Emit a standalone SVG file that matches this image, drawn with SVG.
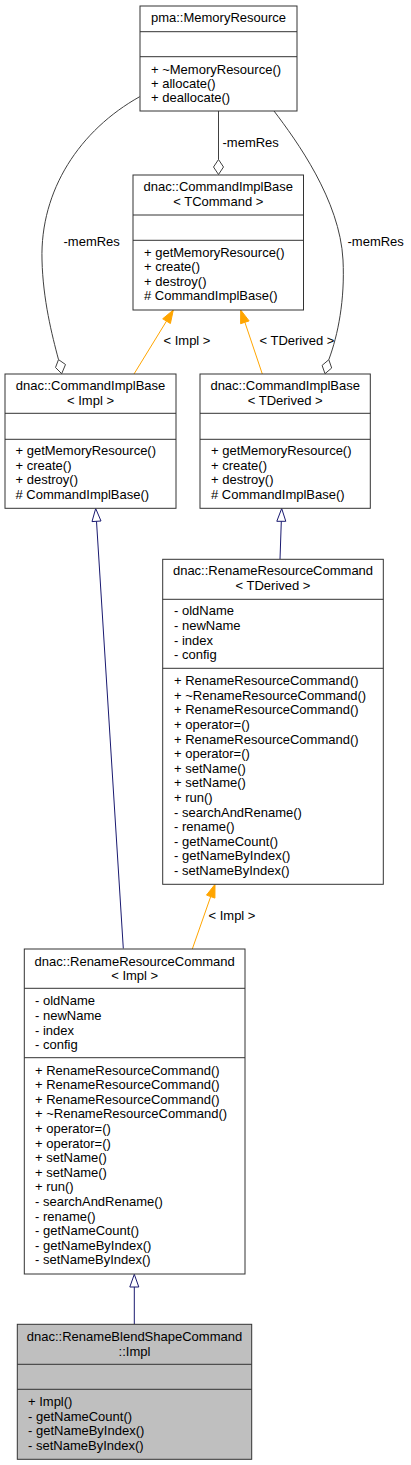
<svg xmlns="http://www.w3.org/2000/svg" width="411" height="1465" viewBox="0 0 411 1465">
<style>
text{font-family:"Liberation Sans",Arial,sans-serif;font-size:13px;fill:#000}
.t{text-anchor:middle}
.box{fill:#fff;stroke:#333;stroke-width:1}
.cur{fill:#bfbfbf;stroke:#333;stroke-width:1}
.sep{stroke:#333;stroke-width:1}
.use{fill:none;stroke:#404040;stroke-width:1}
.dia{fill:#fff;stroke:#404040;stroke-width:1}
.tpl{fill:none;stroke:#ffa500;stroke-width:1}
.tplh{fill:#ffa500;stroke:#ffa500;stroke-width:1}
.inh{fill:none;stroke:#191970;stroke-width:1}
.inhh{fill:#fff;stroke:#191970;stroke-width:1}
</style>
<rect width="411" height="1465" fill="#fff"/>
<g id="connectors">
<path class="use" d="M139.7,96.7 C80,130 40,190 42,260 C43,300 52,335 58.5,359.6"/>
<polygon class="dia" points="61.7,373.7 65.5,364.5 58.5,359.6 55.5,367.5"/>
<path class="use" d="M274,111 C296,140 340,200 343,260 C345,300 338,335 328.8,359.7"/>
<polygon class="dia" points="325,373.7 331.7,368 328.8,359.7 322.1,365.4"/>
<path class="use" d="M218.5,111 L218.5,159.5"/>
<polygon class="dia" points="218.5,174.5 223.5,167 218.5,159.5 213.5,167"/>
<text x="222.5" y="147">-memRes</text>
<text x="63.5" y="246">-memRes</text>
<text x="347.5" y="246">-memRes</text>
<path class="tpl" d="M134,374 L166.5,321.1"/>
<polygon class="tplh" points="173.3,310 170.4,323.5 162.7,318.8"/>
<text x="163.5" y="344.5">&lt; Impl &gt;</text>
<path class="tpl" d="M262.3,374 L244.9,322.3"/>
<polygon class="tplh" points="240.7,310 249.1,320.9 240.6,323.7"/>
<text x="259.5" y="344.5">&lt; TDerived &gt;</text>
<path class="tpl" d="M192.3,949 L210.7,896.6"/>
<polygon class="tplh" points="215,884.3 214.9,898.1 206.5,895.1"/>
<text x="208.5" y="919.5">&lt; Impl &gt;</text>
<path class="inh" d="M123.3,948.5 L96.5,521.3"/>
<polygon class="inhh" points="95.7,508.5 101,521 92,521.6"/>
<path class="inh" d="M280,559.3 L281.3,521.3"/>
<polygon class="inhh" points="281.7,508.5 285.8,521.3 276.8,521.3"/>
<path class="inh" d="M134.3,1324.3 L134.3,1287"/>
<polygon class="inhh" points="134.3,1274.3 138.8,1287 129.8,1287"/>
</g>
<g id="pma_MemoryResource">
<rect class="box" x="140" y="6" width="157" height="105"/>
<line class="sep" x1="140" y1="31.7" x2="297" y2="31.7"/>
<line class="sep" x1="140" y1="56.7" x2="297" y2="56.7"/>
<text class="t" x="218.5" y="21.8">pma::MemoryResource</text>
<text x="151" y="73.5">+ ~MemoryResource()</text>
<text x="151" y="87.9">+ allocate()</text>
<text x="151" y="102.3">+ deallocate()</text>
</g>
<g id="CommandImplBase_TCommand">
<rect class="box" x="133" y="175" width="170.5" height="135"/>
<line class="sep" x1="133" y1="215" x2="303.5" y2="215"/>
<line class="sep" x1="133" y1="240.3" x2="303.5" y2="240.3"/>
<text class="t" x="218.3" y="191.2">dnac::CommandImplBase</text>
<text class="t" x="218.3" y="206.2">&lt; TCommand &gt;</text>
<text x="144" y="256.8">+ getMemoryResource()</text>
<text x="144" y="271.2">+ create()</text>
<text x="144" y="285.5">+ destroy()</text>
<text x="144" y="299.8"># CommandImplBase()</text>
</g>
<g id="CommandImplBase_Impl">
<rect class="box" x="5" y="374" width="171" height="134.3"/>
<line class="sep" x1="5" y1="413.3" x2="176" y2="413.3"/>
<line class="sep" x1="5" y1="439.3" x2="176" y2="439.3"/>
<text class="t" x="90.5" y="390.2">dnac::CommandImplBase</text>
<text class="t" x="90.5" y="404.8">&lt; Impl &gt;</text>
<text x="15.5" y="455.4">+ getMemoryResource()</text>
<text x="15.5" y="469.9">+ create()</text>
<text x="15.5" y="484.3">+ destroy()</text>
<text x="15.5" y="498.7"># CommandImplBase()</text>
</g>
<g id="CommandImplBase_TDerived">
<rect class="box" x="200" y="374" width="170.3" height="134.3"/>
<line class="sep" x1="200" y1="413.3" x2="370.3" y2="413.3"/>
<line class="sep" x1="200" y1="439.3" x2="370.3" y2="439.3"/>
<text class="t" x="285.2" y="390.2">dnac::CommandImplBase</text>
<text class="t" x="285.2" y="404.8">&lt; TDerived &gt;</text>
<text x="211" y="455.4">+ getMemoryResource()</text>
<text x="211" y="469.9">+ create()</text>
<text x="211" y="484.3">+ destroy()</text>
<text x="211" y="498.7"># CommandImplBase()</text>
</g>
<g id="RenameResourceCommand_TDerived">
<rect class="box" x="162.7" y="559.3" width="220.6" height="325"/>
<line class="sep" x1="162.7" y1="599.3" x2="383.3" y2="599.3"/>
<line class="sep" x1="162.7" y1="668.3" x2="383.3" y2="668.3"/>
<text class="t" x="273" y="575.2">dnac::RenameResourceCommand</text>
<text class="t" x="273" y="589.5">&lt; TDerived &gt;</text>
<text x="174" y="615.2">- oldName</text>
<text x="174" y="629.9">- newName</text>
<text x="174" y="644.7">- index</text>
<text x="174" y="659.4">- config</text>
<text x="174" y="685.2">+ RenameResourceCommand()</text>
<text x="174" y="699.8">+ ~RenameResourceCommand()</text>
<text x="174" y="714.4">+ RenameResourceCommand()</text>
<text x="174" y="729">+ operator=()</text>
<text x="174" y="743.6">+ RenameResourceCommand()</text>
<text x="174" y="758.2">+ operator=()</text>
<text x="174" y="772.8">+ setName()</text>
<text x="174" y="787.4">+ setName()</text>
<text x="174" y="802">+ run()</text>
<text x="174" y="816.6">- searchAndRename()</text>
<text x="174" y="831.2">- rename()</text>
<text x="174" y="845.8">- getNameCount()</text>
<text x="174" y="860.4">- getNameByIndex()</text>
<text x="174" y="875">- setNameByIndex()</text>
</g>
<g id="RenameResourceCommand_Impl">
<rect class="box" x="24.3" y="949" width="220.7" height="325"/>
<line class="sep" x1="24.3" y1="988.3" x2="245" y2="988.3"/>
<line class="sep" x1="24.3" y1="1057.7" x2="245" y2="1057.7"/>
<text class="t" x="134.7" y="965.5">dnac::RenameResourceCommand</text>
<text class="t" x="134.7" y="979.5">&lt; Impl &gt;</text>
<text x="35" y="1005.2">- oldName</text>
<text x="35" y="1019.9">- newName</text>
<text x="35" y="1034.5">- index</text>
<text x="35" y="1049.2">- config</text>
<text x="35" y="1074.5">+ RenameResourceCommand()</text>
<text x="35" y="1089.1">+ RenameResourceCommand()</text>
<text x="35" y="1103.7">+ RenameResourceCommand()</text>
<text x="35" y="1118.3">+ ~RenameResourceCommand()</text>
<text x="35" y="1132.9">+ operator=()</text>
<text x="35" y="1147.5">+ operator=()</text>
<text x="35" y="1162.1">+ setName()</text>
<text x="35" y="1176.7">+ setName()</text>
<text x="35" y="1191.3">+ run()</text>
<text x="35" y="1205.9">- searchAndRename()</text>
<text x="35" y="1220.5">- rename()</text>
<text x="35" y="1235.1">- getNameCount()</text>
<text x="35" y="1249.7">- getNameByIndex()</text>
<text x="35" y="1264.3">- setNameByIndex()</text>
</g>
<g id="RenameBlendShapeCommand_Impl">
<rect class="cur" x="17.3" y="1324.3" width="234.4" height="135"/>
<line class="sep" x1="17.3" y1="1364.3" x2="251.7" y2="1364.3"/>
<line class="sep" x1="17.3" y1="1389.3" x2="251.7" y2="1389.3"/>
<text class="t" x="134.5" y="1341.2">dnac::RenameBlendShapeCommand</text>
<text class="t" x="134.5" y="1355.5">::Impl</text>
<text x="28" y="1406.2">+ Impl()</text>
<text x="28" y="1420.6">- getNameCount()</text>
<text x="28" y="1435.1">- getNameByIndex()</text>
<text x="28" y="1449.5">- setNameByIndex()</text>
</g>
</svg>
